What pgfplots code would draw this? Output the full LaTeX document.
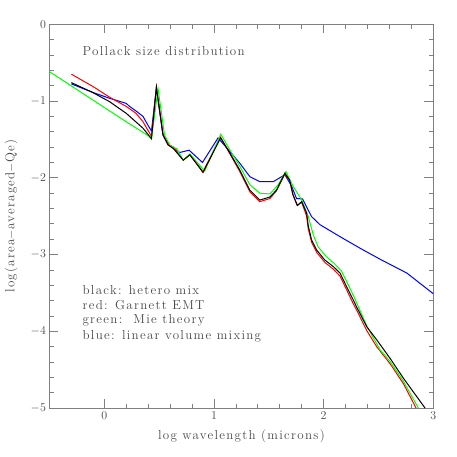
\documentclass[border=0pt]{standalone}
\usepackage{fontspec}
\setmainfont{Latin Modern Roman}[LetterSpace=10]
\usepackage{pgfplots}
\pgfplotsset{compat=1.18}
\definecolor{txt}{gray}{0.28}
\definecolor{axl}{gray}{0.5}
\newcommand{\fs}{\fontsize{13}{15}\selectfont}
\begin{document}
\begin{tikzpicture}
\begin{axis}[name=ax, scale only axis, width=384pt, height=384pt,
  xmin=-0.5, xmax=3, ymin=-5, ymax=0,
  xtick={0,1,2,3}, ytick={-5,-4,-3,-2,-1,0},
  minor x tick num=4, minor y tick num=4,
  tick align=inside,
  major tick length=9pt, minor tick length=4.5pt,
  axis line style={axl, line width=0.8pt},
  every tick/.style={axl, line width=0.8pt},
  tick label style={font=\fs, text=txt},
  label style={font=\fs, text=txt},
  xlabel={log wavelength (microns)},
  ylabel={log(area$-$averaged$-$Qe)},
  xlabel style={at={(axis description cs:0.5,-0.083)}, anchor=base},
  ylabel style={at={(axis description cs:-0.1,0.5)}, anchor=center},
  every axis plot/.append style={line width=1pt, no markers},
]
\addplot[blue] coordinates {
(-0.30,-0.777) (-0.10,-0.89) (0.048,-0.964) (0.20,-1.03) (0.23,-1.07) (0.29,-1.13) (0.353,-1.20) (0.40,-1.32) (0.43,-1.39)
(0.475,-0.83) (0.535,-1.44) (0.596,-1.58) (0.688,-1.67) (0.773,-1.64) (0.895,-1.80) (1.037,-1.48)
(1.146,-1.66) (1.236,-1.81) (1.327,-1.985) (1.418,-2.05) (1.54,-2.05) (1.647,-1.96) (1.708,-2.11)
(1.753,-2.27) (1.808,-2.275) (1.859,-2.42) (1.89,-2.505) (1.966,-2.61) (2.149,-2.766) (2.332,-2.917)
(2.514,-3.06) (2.758,-3.24) (3.0,-3.51)};
\addplot[red] coordinates {
(-0.30,-0.65) (-0.104,-0.81) (0.048,-0.95) (0.20,-1.07) (0.29,-1.16) (0.353,-1.27) (0.43,-1.46)
(0.475,-0.82) (0.535,-1.44) (0.58,-1.56) (0.63,-1.60) (0.72,-1.77) (0.78,-1.70) (0.90,-1.92) (1.06,-1.47)
(1.146,-1.69) (1.236,-1.92) (1.327,-2.18) (1.418,-2.31) (1.51,-2.27) (1.57,-2.17) (1.647,-1.95)
(1.69,-2.03) (1.72,-2.22) (1.76,-2.36) (1.80,-2.32) (1.845,-2.50) (1.859,-2.66) (1.89,-2.84)
(1.936,-2.97) (2.01,-3.10) (2.088,-3.19) (2.149,-3.28) (2.21,-3.46) (2.27,-3.64) (2.30,-3.72)
(2.393,-3.99) (2.484,-4.20) (2.605,-4.42) (2.727,-4.68) (2.843,-5.0)};
\addplot[green] coordinates {
(-0.50,-0.617) (-0.10,-0.99) (0.20,-1.27) (0.40,-1.45) (0.43,-1.49)
(0.49,-0.84) (0.55,-1.45) (0.60,-1.58) (0.66,-1.62) (0.72,-1.77) (0.78,-1.69) (0.916,-1.91) (1.062,-1.43)
(1.146,-1.64) (1.236,-1.85) (1.327,-2.09) (1.418,-2.20) (1.51,-2.21) (1.585,-2.09) (1.656,-1.92)
(1.722,-2.11) (1.80,-2.29) (1.859,-2.50) (1.905,-2.74) (1.95,-2.90) (2.02,-3.02) (2.10,-3.12)
(2.16,-3.21) (2.22,-3.38) (2.28,-3.56) (2.393,-3.93) (2.514,-4.24) (2.605,-4.39) (2.727,-4.65) (2.864,-5.0)};
\addplot[black] coordinates {
(-0.30,-0.76) (-0.104,-0.89) (0.048,-1.008) (0.20,-1.16) (0.353,-1.354) (0.43,-1.49)
(0.475,-0.82) (0.535,-1.44) (0.58,-1.57) (0.63,-1.62) (0.72,-1.77) (0.78,-1.70) (0.90,-1.93) (1.06,-1.48)
(1.146,-1.68) (1.236,-1.90) (1.327,-2.16) (1.418,-2.29) (1.51,-2.25) (1.57,-2.16) (1.647,-1.94)
(1.69,-2.03) (1.72,-2.22) (1.76,-2.36) (1.80,-2.31) (1.845,-2.46) (1.859,-2.62) (1.89,-2.81)
(1.936,-2.94) (2.01,-3.07) (2.088,-3.156) (2.149,-3.24) (2.21,-3.42) (2.27,-3.59) (2.30,-3.68)
(2.393,-3.94) (2.484,-4.11) (2.605,-4.35) (2.727,-4.61) (2.849,-4.85) (2.925,-5.0)};
\node[anchor=west, font=\fs, text=txt, inner sep=0pt] at (axis cs:-0.2,-0.35) {Pollack size distribution};
\node[anchor=west, font=\fs, text=txt, inner sep=0pt] at (axis cs:-0.2,-3.46) {black: hetero mix};
\node[anchor=west, font=\fs, text=txt, inner sep=0pt] at (axis cs:-0.2,-3.66) {red: Garnett EMT};
\node[anchor=west, font=\fs, text=txt, inner sep=0pt] at (axis cs:-0.2,-3.86) {green:\ \ Mie theory};
\node[anchor=west, font=\fs, text=txt, inner sep=0pt] at (axis cs:-0.2,-4.06) {blue: linear volume mixing};
\end{axis}
\pgfresetboundingbox
\path[use as bounding box] ([shift={(-49.5pt,-48.7pt)}]ax.south west) rectangle ([shift={(23.7pt,24.3pt)}]ax.north east);
\end{tikzpicture}
\end{document}
